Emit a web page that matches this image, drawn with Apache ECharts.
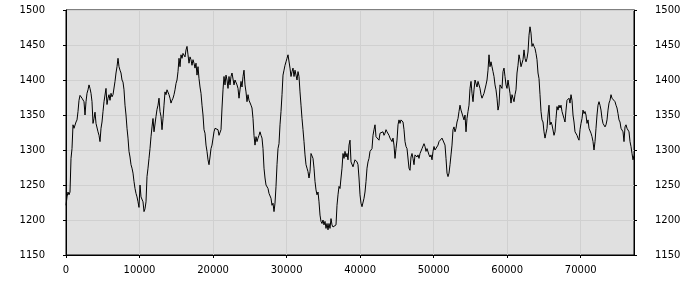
<!DOCTYPE html>
<html>
<head>
<meta charset="utf-8">
<script src="https://cdn.jsdelivr.net/npm/echarts@6/dist/echarts.min.js"></script>
<style>html,body{margin:0;padding:0;background:#fff}#c{width:700px;height:300px}</style>
</head>
<body>
<div id="c"></div>
<script>
// sampling interval of the series along x (data units)
const xStep = 136;
// series values, one per sample
const values = [
1221,1233,1240,1236,1240,1288,1302,1336,1331,1329,
1340,1343,1355,1371,1378,1376,1374,1376,1369,1350,
1369,1381,1386,1393,1388,1381,1369,1338,1345,1354,
1338,1340,1326,1321,1312,1331,1340,1355,1369,1370,
1388,1365,1374,1379,1371,1381,1376,1379,1381,1398,
1410,1419,1431,1419,1414,1410,1400,1397,1386,1364,
1350,1331,1317,1298,1290,1279,1274,1267,1255,1245,
1238,1233,1226,1218,1250,1233,1231,1226,1212,1216,
1226,1262,1274,1288,1302,1319,1333,1345,1326,1325,
1348,1358,1364,1374,1355,1348,1329,1345,1364,1383,
1379,1386,1386,1379,1374,1367,1371,1374,1379,1386,
1395,1400,1412,1431,1419,1436,1431,1438,1440,1433,
1443,1448,1436,1424,1433,1429,1421,1429,1424,1417,
1424,1407,1419,1402,1390,1381,1364,1350,1329,1324,
1307,1298,1286,1279,1290,1302,1307,1309,1326,1331,
1329,1331,1329,1321,1319,1329,1360,1386,1405,1393,
1407,1400,1388,1405,1393,1405,1410,1412,1393,1400,
1398,1393,1388,1374,1386,1398,1390,1405,1414,1393,
1383,1369,1379,1371,1369,1364,1360,1345,1321,1307,
1319,1312,1317,1321,1326,1321,1317,1302,1274,1260,
1250,1248,1245,1238,1236,1231,1221,1224,1212,1224,
1248,1279,1302,1309,1336,1355,1379,1407,1414,1421,
1426,1431,1436,1438,1417,1405,1412,1417,1405,1414,
1407,1400,1412,1405,1383,1364,1345,1329,1312,1293,
1279,1274,1269,1260,1269,1295,1295,1288,1274,1255,
1243,1236,1240,1226,1207,1198,1195,1200,1193,1198,
1188,1195,1186,1195,1188,1202,1193,1190,1188,1188,
1193,1221,1236,1248,1245,1260,1274,1295,1288,1298,
1290,1295,1286,1307,1314,1283,1281,1276,1281,1286,
1288,1283,1279,1260,1236,1224,1219,1221,1231,1240,
1255,1274,1283,1288,1298,1300,1302,1321,1329,1336,
1319,1317,1319,1314,1324,1326,1324,1326,1321,1324,
1329,1326,1324,1321,1317,1319,1312,1317,1307,1288,
1302,1314,1336,1343,1338,1343,1345,1340,1329,1312,
1305,1302,1300,1274,1271,1290,1295,1288,1279,1293,
1295,1290,1293,1288,1295,1293,1302,1300,1309,1305,
1298,1302,1300,1293,1290,1293,1286,1298,1305,1300,
1298,1302,1307,1312,1314,1312,1317,1319,1317,1307,
1288,1267,1262,1267,1279,1293,1307,1329,1333,1326,
1331,1340,1345,1355,1364,1357,1355,1357,1343,1350,
1326,1345,1355,1364,1388,1398,1381,1369,1386,1400,
1402,1390,1398,1400,1388,1379,1374,1376,1381,1381,
1393,1400,1414,1436,1419,1426,1419,1412,1405,1393,
1386,1374,1357,1364,1393,1395,1388,1412,1417,1405,
1393,1388,1400,1390,1381,1367,1379,1374,1369,1379,
1386,1410,1421,1436,1429,1419,1421,1429,1443,1431,
1426,1431,1440,1464,1476,1467,1448,1452,1448,1445,
1438,1429,1410,1402,1379,1355,1343,1340,1326,1317,
1324,1331,1350,1364,1336,1340,1336,1338,1321,1326,
1345,1362,1357,1364,1360,1364,1355,1350,1345,1340,
1357,1371,1369,1374,1367,1379,1371,1350,1340,1326,
1324,1321,1317,1314,1329,1338,1345,1357,1352,1355,
1350,1338,1343,1331,1329,1324,1319,1312,1300,1312,
1331,1350,1364,1369,1364,1357,1345,1338,1336,1333,
1336,1343,1357,1367,1371,1379,1374,1376,1374,1369,
1364,1360,1352,1343,1340,1331,1329,1326,1312,1333,
1336,1331,1329,1326,1312,1305,1295,1286,1292
];
// axis ranges and tick spacing
const yRange = [1150, 1500];
const yTickStep = 50;
const xTickStep = 10000;

const seriesData = values.map((v, i) => [i * xStep, v]);
const fontFamily = 'DejaVu Sans';
const labelStyle = { color: '#000', fontSize: 10, fontFamily: fontFamily };

const chart = echarts.init(document.getElementById('c'), null, { renderer: 'canvas' });
chart.setOption({
  animation: false,
  backgroundColor: '#ffffff',
  grid: {
    left: 66, right: 66, top: 10, bottom: 45,
    show: true, backgroundColor: '#e0e0e0', borderColor: '#000', borderWidth: 1
  },
  xAxis: {
    type: 'value', min: 0, max: 'dataMax', interval: xTickStep,
    axisLine: { show: true, lineStyle: { color: '#000', width: 1 } },
    axisTick: { show: true, inside: false, length: 3, lineStyle: { color: '#000' } },
    axisLabel: Object.assign({ margin: 10, showMaxLabel: false, formatter: v => String(v) }, labelStyle),
    splitLine: { show: true, lineStyle: { color: '#d0d0d0', width: 1 } }
  },
  yAxis: [
    {
      type: 'value', position: 'left', min: yRange[0], max: yRange[1], interval: yTickStep,
      axisLine: { show: true, lineStyle: { color: '#000', width: 1 } },
      axisTick: { show: true, inside: false, length: 3, lineStyle: { color: '#000' } },
      axisLabel: Object.assign({ margin: 21, formatter: v => String(v) }, labelStyle),
      splitLine: { show: true, lineStyle: { color: '#d0d0d0', width: 1 } }
    },
    {
      type: 'value', position: 'right', min: yRange[0], max: yRange[1], interval: yTickStep,
      axisLine: { show: true, lineStyle: { color: '#000', width: 1 } },
      axisTick: { show: true, inside: false, length: 3, lineStyle: { color: '#000' } },
      axisLabel: Object.assign({ margin: 21, formatter: v => String(v) }, labelStyle),
      splitLine: { show: false }
    }
  ],
  series: [{
    type: 'line', data: seriesData, yAxisIndex: 0,
    showSymbol: false, symbol: 'none', sampling: null,
    lineStyle: { color: '#000', width: 1 },
    emphasis: { disabled: true }
  }]
});
</script>
</body>
</html>
